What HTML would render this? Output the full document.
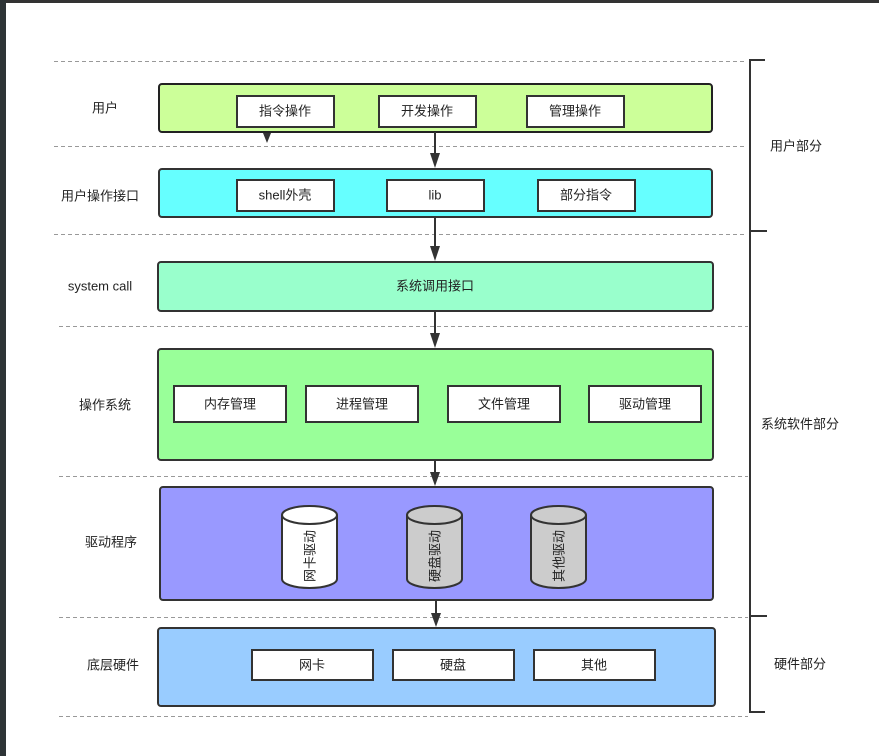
<!DOCTYPE html>
<html><head><meta charset="utf-8"><style>
html,body{margin:0;padding:0;background:#fff;}
svg{display:block;}
text{font-family:"Liberation Sans","Noto Sans CJK SC",sans-serif;font-size:13px;fill:#222;}
</style></head><body>
<svg width="879" height="756" viewBox="0 0 879 756" xmlns="http://www.w3.org/2000/svg">
<defs><marker id="a" markerWidth="10" markerHeight="10" refX="5" refY="9" orient="auto" markerUnits="userSpaceOnUse"><path d="M0,0 L10,0 L5,10 Z" transform="rotate(-90 5 5) rotate(90 5 5)" fill="#333"/></marker></defs>
<rect x="0" y="0" width="879" height="3" fill="#333"/>
<rect x="0" y="0" width="6" height="756" fill="#2e3436"/>
<g stroke="#999" stroke-dasharray="4,3" stroke-width="1">
<line x1="54" y1="61.5" x2="745" y2="61.5"/><line x1="54" y1="146.5" x2="745" y2="146.5"/><line x1="54" y1="234.5" x2="745" y2="234.5"/>
<line x1="59" y1="326.5" x2="748" y2="326.5"/><line x1="59" y1="476.5" x2="748" y2="476.5"/><line x1="59" y1="617.5" x2="748" y2="617.5"/><line x1="59" y1="716.5" x2="748" y2="716.5"/>
</g>
<g stroke="#333" stroke-width="2" fill="none">
<path d="M765,60 H750 V712 H765"/><line x1="750" y1="231" x2="767" y2="231"/><line x1="750" y1="616" x2="767" y2="616"/>
</g>
<g stroke="#222" stroke-width="2">
<rect x="159" y="84" width="553" height="48" rx="3" fill="#CCFF99"/>
<rect x="159" y="169" width="553" height="48" rx="3" fill="#66FFFF" stroke="#333"/>
<rect x="158" y="262" width="555" height="49" rx="3" fill="#99FFCC" stroke="#333"/>
<rect x="158" y="349" width="555" height="111" rx="3" fill="#99FF99" stroke="#333"/>
<rect x="160" y="487" width="553" height="113" rx="3" fill="#9999FF" stroke="#333"/>
<rect x="158" y="628" width="557" height="78" rx="3" fill="#99CCFF" stroke="#333"/>
</g>
<g stroke="#333" stroke-width="2" fill="#fff">
<rect x="237" y="96" width="97" height="31"/><rect x="379" y="96" width="97" height="31"/><rect x="527" y="96" width="97" height="31"/>
<rect x="237" y="180" width="97" height="31"/><rect x="387" y="180" width="97" height="31"/><rect x="538" y="180" width="97" height="31"/>
<rect x="174" y="386" width="112" height="36"/><rect x="306" y="386" width="112" height="36"/><rect x="448" y="386" width="112" height="36"/><rect x="589" y="386" width="112" height="36"/>
<rect x="252" y="650" width="121" height="30"/><rect x="393" y="650" width="121" height="30"/><rect x="534" y="650" width="121" height="30"/>
</g>
<g stroke="#333" stroke-width="2">
<path d="M282,515 V579 A27.5,9 0 0 0 337,579 V515" fill="#fff"/><ellipse cx="309.5" cy="515" rx="27.5" ry="9" fill="#fff"/>
<path d="M407,515 V579 A27.5,9 0 0 0 462,579 V515" fill="#ccc"/><ellipse cx="434.5" cy="515" rx="27.5" ry="9" fill="#ccc"/>
<path d="M531,515 V579 A27.5,9 0 0 0 586,579 V515" fill="#ccc"/><ellipse cx="558.5" cy="515" rx="27.5" ry="9" fill="#ccc"/>
</g>
<g stroke="#333" stroke-width="2">
<line x1="435" y1="132" x2="435" y2="156"/><line x1="435" y1="217" x2="435" y2="248"/><line x1="435" y1="311" x2="435" y2="336"/><line x1="435" y1="460" x2="435" y2="474"/><line x1="436" y1="600" x2="436" y2="615"/>
</g>
<g fill="#333">
<path d="M430,153 L440,153 L435,168 Z"/><path d="M430,246 L440,246 L435,261 Z"/><path d="M430,333 L440,333 L435,348 Z"/><path d="M430,472 L440,472 L435,486 Z"/><path d="M431,613 L441,613 L436,627 Z"/>
<path d="M263,133 L271,133 L267,143 Z"/>
</g>
<g text-anchor="middle" dominant-baseline="central">
<text x="105" y="108">用户</text><text x="100" y="196">用户操作接口</text><text x="100" y="286">system call</text>
<text x="105" y="405">操作系统</text><text x="111" y="542">驱动程序</text><text x="113" y="665">底层硬件</text>
<text x="796" y="146">用户部分</text><text x="800" y="424">系统软件部分</text><text x="800" y="664">硬件部分</text>
<text x="285" y="111">指令操作</text><text x="427" y="111">开发操作</text><text x="575" y="111">管理操作</text>
<text x="285" y="195">shell外壳</text><text x="435" y="195">lib</text><text x="586" y="195">部分指令</text>
<text x="435" y="286">系统调用接口</text>
<text x="230" y="404">内存管理</text><text x="362" y="404">进程管理</text><text x="504" y="404">文件管理</text><text x="645" y="404">驱动管理</text>
<text x="312" y="665">网卡</text><text x="453" y="665">硬盘</text><text x="594" y="665">其他</text>
<text transform="translate(310,556) rotate(-90)">网卡驱动</text>
<text transform="translate(435,556) rotate(-90)">硬盘驱动</text>
<text transform="translate(559,556) rotate(-90)">其他驱动</text>
</g>
</svg>
</body></html>
